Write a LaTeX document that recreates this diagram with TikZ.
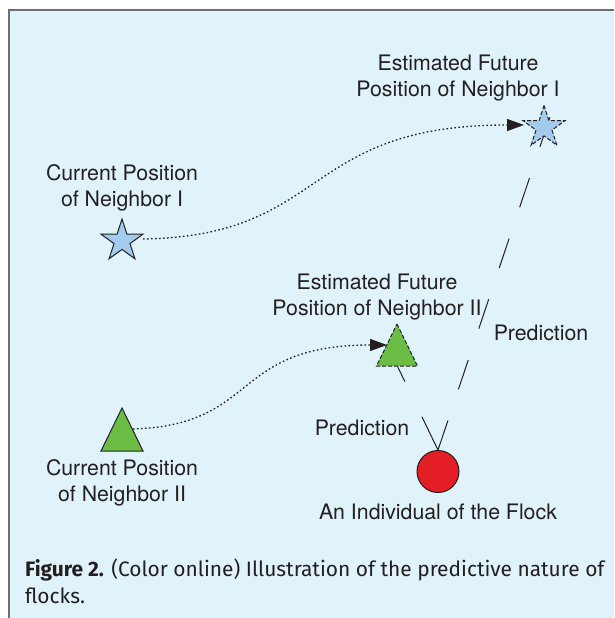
\documentclass[tikz,border=0pt]{standalone}
\usepackage{fontspec}
\setmainfont{TeX Gyre Heros}
\newfontfamily\capfont{Fira Sans}
\usetikzlibrary{shapes.geometric,arrows.meta}
\definecolor{bgblue}{HTML}{E0F3FB}
\definecolor{framegray}{HTML}{6D6E70}
\definecolor{starblue}{HTML}{A3CBEE}
\definecolor{leafgreen}{HTML}{6CBD45}
\definecolor{flockred}{HTML}{E31E24}
\definecolor{ink}{HTML}{231F20}
\tikzset{
  lbl/.style={text=ink, align=center, font=\fontsize{21.3}{25.5}\selectfont, inner sep=0pt},
  starshape/.style={star, star points=5, star point ratio=2.618, minimum size=44pt, inner sep=0pt, fill=starblue, draw=ink, line width=1pt},
  dotpath/.style={draw=ink, line width=1.3pt, dash pattern=on 1.6pt off 2.4pt, -{Triangle[length=17pt,width=12pt]}},
  predline/.style={draw=ink, line width=1pt},
}
\begin{document}
\begin{tikzpicture}[x=1pt,y=-1pt]
\useasboundingbox (0,0) rectangle (614,618);
% background
\fill[white] (0,0) rectangle (614,618);
\fill[bgblue] (9,11) rectangle (614,618);
\draw[framegray, line width=2pt] (8.5,618) -- (8.5,10.5) -- (614,10.5);

% positions
\coordinate (circtop) at (438,450);
\coordinate (s2aim) at (550,117);
\coordinate (t2aim) at (392,355);

% prediction lines (under shapes)
\draw[predline, dash pattern=on 31pt off 33pt] (circtop) -- (s2aim);
\draw[predline, dash pattern=on 37pt off 39pt] (circtop) -- (t2aim);

% shapes
\node[starshape] (star1) at (122,241) {};
\node[starshape, dash pattern=on 4pt off 2pt] (star2) at (544,127.5) {};
\coordinate (t1apex) at (122,408);
\draw[fill=leafgreen, draw=ink, line width=1pt] (t1apex) -- (143,451) -- (101,451) -- cycle;
\coordinate (t2apex) at (397,324);
\draw[fill=leafgreen, draw=ink, line width=1pt, dash pattern=on 4pt off 2pt] (t2apex) -- (417.5,366) -- (376.5,366) -- cycle;
\node[circle, fill=flockred, draw=ink, line width=1pt, minimum size=42pt, inner sep=0pt] (bird) at (438,471.5) {};

% connector anchors
\coordinate (s1out) at (143,239);
\coordinate (s2in) at (524,125);
\coordinate (t1out) at (133,429);
\coordinate (t2in) at (387,345);

% dotted movement curves
\draw[dotpath] (s1out) .. controls (330,236) and (300,125) .. (s2in);
\draw[dotpath] (t1out) .. controls (260,425) and (230,345) .. (t2in);

% labels
\node[lbl] (lblS2) at (458,78) {Estimated Future\\Position of Neighbor I};
\node[lbl] (lblS1) at (122,188) {Current Position\\of Neighbor I};
\node[lbl] (lblT2) at (377,297) {Estimated Future\\Position of Neighbor II};
\node[lbl] (lblT1) at (122,483) {Current Position\\of Neighbor II};
\node[lbl] (predR) at (541,333) {Prediction};
\node[lbl] (predL) at (362,428) {Prediction};
\node[lbl] (lblB) at (438,512) {An Individual of the Flock};

% caption
\node[text=ink, anchor=north west, align=left, inner sep=0pt, font=\capfont\fontsize{20.9}{26.5}\selectfont] (caption) at (25,559)
  {\textbf{Figure 2.} (Color online) Illustration of the predictive nature of\\flocks.};
\end{tikzpicture}
\end{document}
